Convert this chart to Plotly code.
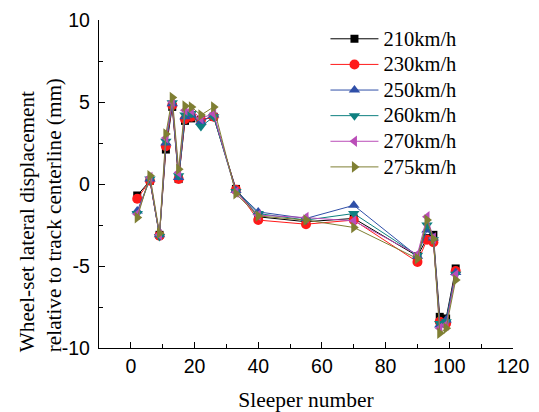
import plotly.graph_objects as go

sleepers = [2, 6, 9, 11, 13, 15, 17, 19, 22, 26, 33, 40, 55, 70, 90, 93, 95, 97, 99, 102]

v210 = [-0.7, 0.2, -3.1, 2.1, 4.7, 0.3, 3.85, 4.0, 3.9, 4.1, -0.3, -2.0, -2.3, -2.1, -4.4, -3.3, -3.1, -8.1, -8.2, -5.15]
v230 = [-0.9, 0.2, -3.15, 2.3, 4.8, 0.3, 3.95, 4.1, 3.9, 4.1, -0.35, -2.2, -2.45, -2.2, -4.75, -3.4, -3.55, -8.4, -8.5, -5.3]
v250 = [-1.65, 0.3, -3.1, 2.5, 4.9, 0.4, 4.1, 4.2, 3.8, 4.2, -0.4, -1.7, -2.1, -1.3, -4.4, -2.8, -3.3, -8.6, -8.3, -5.4]
v260 = [-1.8, 0.3, -3.2, 2.6, 4.95, 0.5, 4.2, 4.3, 3.5, 4.1, -0.45, -1.8, -2.2, -1.8, -4.35, -2.5, -3.4, -8.5, -8.4, -5.5]
v270 = [-1.85, 0.4, -3.1, 2.8, 5.0, 0.7, 4.5, 4.5, 4.0, 4.3, -0.5, -1.9, -2.05, -2.25, -4.3, -2.0, -3.3, -8.8, -8.6, -5.55]
v275 = [-2.05, 0.5, -3.0, 3.05, 5.28, 0.9, 4.75, 4.7, 4.2, 4.7, -0.6, -1.95, -2.2, -2.65, -4.55, -2.2, -3.35, -9.1, -8.8, -5.85]

series_names = ["210km/h", "230km/h", "250km/h", "260km/h", "270km/h", "275km/h"]
series_values = [v210, v230, v250, v260, v270, v275]

x_tick_vals = [0, 20, 40, 60, 80, 100, 120]
x_tick_text = ["0", "20", "40", "60", "80", "100", "120"]
x_minor_vals = [10, 30, 50, 70, 90, 110]
y_tick_vals = [-10, -5, 0, 5, 10]
y_tick_text = ["-10", "-5", "0", "5", "10"]
y_minor_vals = [-7.5, -2.5, 2.5, 7.5]

x_title = "Sleeper number"
y_title = "Wheel-set lateral displacement<br>relative to track centerline (mm)"

colors = ["#000000", "#FF1A1A", "#2F4FA8", "#0E8080", "#BA4DB8", "#7F7F33"]
symbols = ["square", "circle", "triangle-up", "triangle-down", "triangle-left", "triangle-right"]
sizes = [8, 10, 10, 10, 10, 10]

SERIF = "Liberation Serif, Times New Roman, serif"
SANS = "Liberation Sans, Arial, sans-serif"

fig = go.Figure()
for name, vals, c, s, sz in zip(series_names, series_values, colors, symbols, sizes):
    fig.add_trace(go.Scatter(
        x=sleepers, y=vals, mode="lines+markers",
        name='<span style="font-size:20.5px">' + name + '</span>',
        line=dict(color=c, width=1),
        marker=dict(color=c, symbol=s, size=sz, line=dict(width=0)),
    ))

axis_common = dict(
    showgrid=False, zeroline=False, showline=True, linecolor="black", linewidth=1.3,
    ticks="inside", ticklen=6, tickwidth=1.3, tickcolor="black",
    tickfont=dict(family=SANS, size=19.5, color="black"),
    mirror=False, ticklabeloverflow="allow", automargin=False,
)

fig.update_xaxes(
    range=[-10, 120], tickmode="array", tickvals=x_tick_vals, ticktext=x_tick_text,
    minor=dict(tickmode="array", tickvals=x_minor_vals, ticks="inside", ticklen=3.5, tickwidth=1.3, tickcolor="black"),
    title=dict(text=x_title, font=dict(family=SERIF, size=21.5, color="black"), standoff=17),
    **axis_common,
)
fig.update_yaxes(
    range=[-10, 10], tickmode="array", tickvals=y_tick_vals, ticktext=y_tick_text,
    minor=dict(tickmode="array", tickvals=y_minor_vals, ticks="inside", ticklen=3.5, tickwidth=1.3, tickcolor="black"),
    ticklabelstandoff=4,
    **axis_common,
)

fig.add_annotation(
    text=y_title, xref="paper", yref="paper", x=-0.14, y=0.405,
    xanchor="center", yanchor="middle", textangle=-90, align="left", showarrow=False,
    font=dict(family=SERIF, size=21.2, color="black"),
)

fig.update_layout(
    width=531, height=404,
    margin=dict(l=91, r=26, t=11.5, b=64),
    paper_bgcolor="white", plot_bgcolor="white",
    showlegend=True,
    legend=dict(
        x=0.547, y=0.997, xanchor="left", yanchor="top",
        font=dict(family=SERIF, size=17.4, color="black"),
        bgcolor="rgba(0,0,0,0)", borderwidth=0, tracegroupgap=0, itemwidth=48,
    ),
)

fig.write_html("out.html")
